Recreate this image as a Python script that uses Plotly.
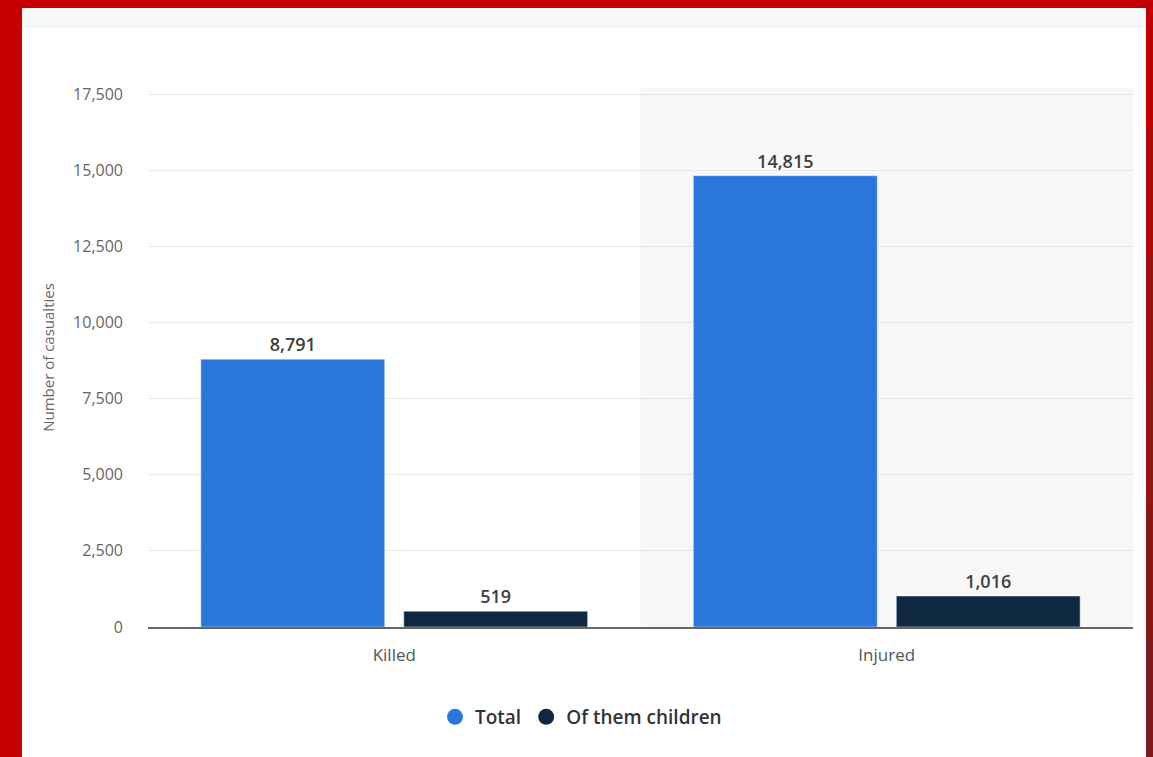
import plotly.graph_objects as go

categories = ["Killed", "Injured"]
total_values = [8791, 14815]
children_values = [519, 1016]
series_names = ["Total", "Of them children"]
y_ticks = [0, 2500, 5000, 7500, 10000, 12500, 15000, 17500]

W, H = 1153, 757
L, R, T, B = 148, 1133, 88, 627
PW, PH = R - L, B - T
PX_PER_UNIT = 533 / 17500
Y_TOP = (B - T) / PX_PER_UNIT

def px_x(p):
    return (p - L) / PW

def px_y(p):
    return (B - p) / PH

blue = "#2a76dd"
navy = "#0f2842"
label_font = dict(family="Open Sans", size=18, color="#404040", weight=600)

fig = go.Figure()
fig.add_trace(go.Bar(
    x=categories, y=total_values, name=series_names[0], marker_color=blue,
    text=[f"{v:,}" for v in total_values], textposition="outside",
    textfont=label_font, cliponaxis=False, showlegend=False))
fig.add_trace(go.Bar(
    x=categories, y=children_values, name=series_names[1], marker_color=navy,
    text=[f"{v:,}" for v in children_values], textposition="outside",
    textfont=label_font, cliponaxis=False, showlegend=False))
for name, col in zip(series_names, [blue, navy]):
    fig.add_trace(go.Scatter(x=[None], y=[None], mode="markers", name=name,
                             marker=dict(symbol="circle", size=19, color=col)))

shapes = [
    dict(type="rect", xref="paper", yref="paper", x0=px_x(22), x1=px_x(1146),
         y0=px_y(757), y1=px_y(8), fillcolor="white", line_width=0, layer="below"),
    dict(type="rect", xref="paper", yref="paper", x0=px_x(22), x1=px_x(1146),
         y0=px_y(28), y1=px_y(8), fillcolor="#f6f7f9", line_width=0, layer="below"),
    dict(type="rect", xref="x", yref="paper", x0=0.5, x1=1.5,
         y0=0, y1=1, fillcolor="#f8f8f8", line_width=0, layer="below"),
]
reds = ["#c00000", "#b20808", "#a11010", "#931515", "#881818", "#7f1a1a"]
seg = 757 / len(reds)
for i, c in enumerate(reds):
    shapes.append(dict(type="rect", xref="paper", yref="paper", x0=px_x(1146), x1=px_x(1153),
                       y0=px_y((i + 1) * seg), y1=px_y(i * seg), fillcolor=c, line_width=0, layer="below"))

fig.update_layout(
    width=W, height=H,
    margin=dict(l=L, r=W - R, t=T, b=H - B, pad=0),
    paper_bgcolor="#c60000", plot_bgcolor="rgba(0,0,0,0)",
    barmode="group", bargap=0.176, bargroupgap=0.094,
    font=dict(family="Open Sans", color="#666"),
    shapes=shapes,
    legend=dict(orientation="h", x=px_x(581), xanchor="center", y=px_y(717), yanchor="middle",
                font=dict(family="Open Sans", size=19, color="#333", weight=600),
                bgcolor="rgba(0,0,0,0)", itemsizing="trace", traceorder="normal"),
    xaxis=dict(showgrid=False, showline=True, linecolor="#666", linewidth=2,
               tickfont=dict(size=17, color="#555"), ticks="", ticklabelstandoff=12,
               fixedrange=True),
    yaxis=dict(range=[0, Y_TOP], tickvals=y_ticks, ticktext=[f"{v:,}" for v in y_ticks],
               showgrid=True, gridcolor="#d2d2d2", griddash="1px,1px", gridwidth=1,
               zeroline=False, showline=False, tickfont=dict(size=16, color="#666"),
               ticklabelstandoff=24,
               title=dict(text="Number of casualties", font=dict(size=15, color="#666"), standoff=14)),
)

fig.write_html("out.html")
